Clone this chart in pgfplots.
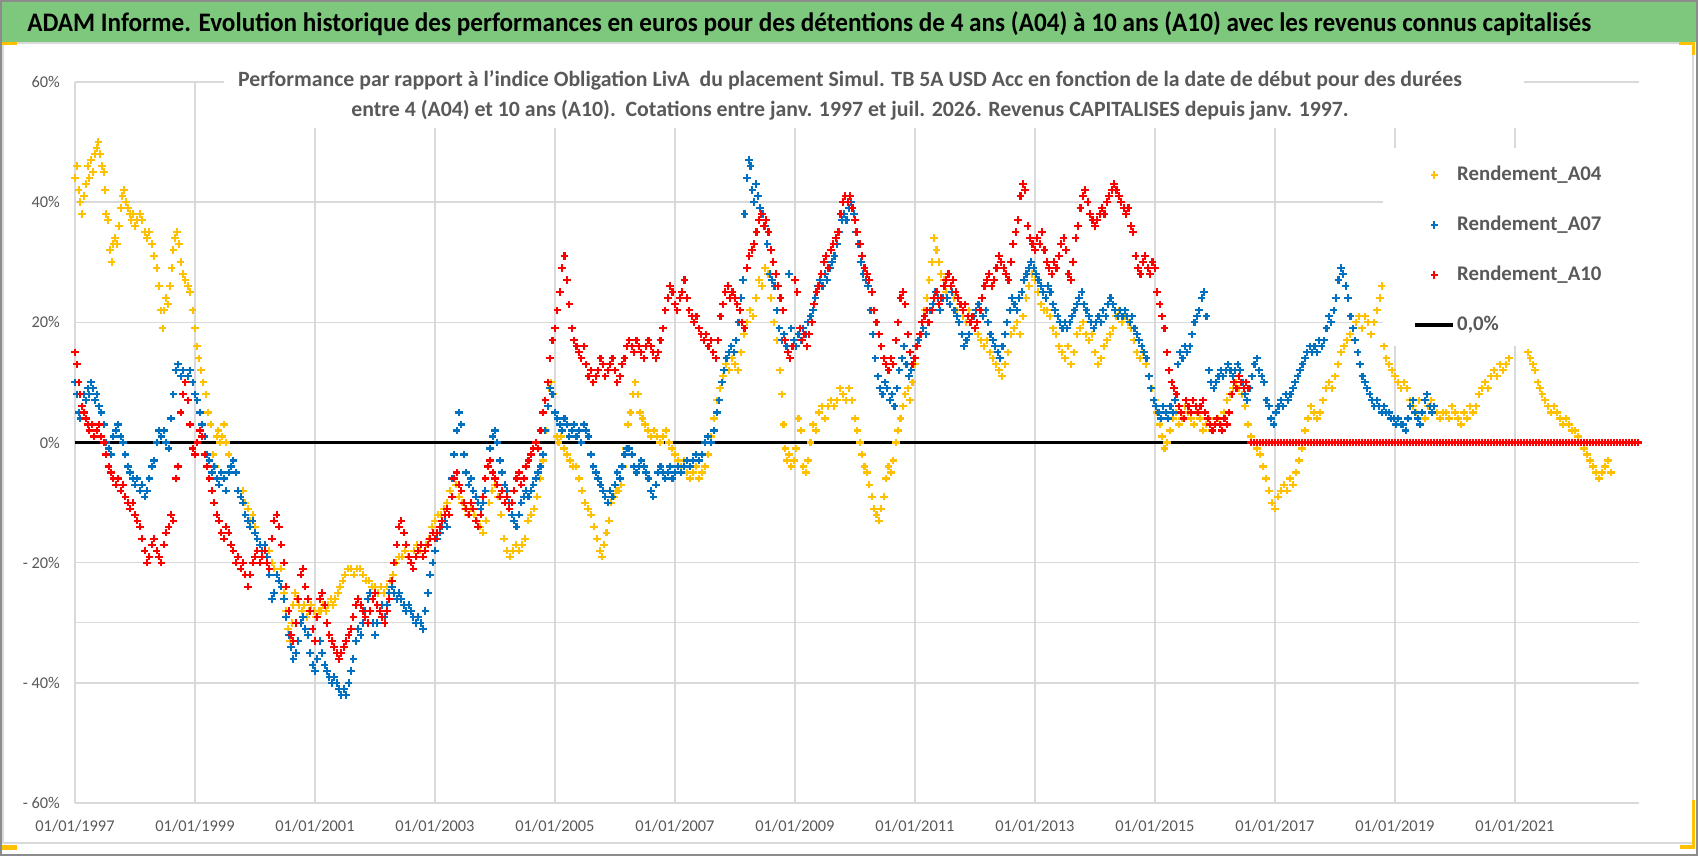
\documentclass[border=0pt]{standalone}
\usepackage{pgfplots}
\pgfplotsset{compat=1.18}
\usepackage{pgfplotstable}
\usepackage{fontspec}
\setmainfont{Carlito}
\definecolor{cA04}{HTML}{FFC000}
\definecolor{cA07}{HTML}{0070C0}
\definecolor{cA10}{HTML}{FF0000}
\definecolor{gridc}{HTML}{D9D9D9}
\definecolor{txtgray}{HTML}{595959}
\definecolor{banner}{HTML}{7DC87D}
\definecolor{framegray}{HTML}{8C8C8C}

\pgfplotstableread[row sep=\\]{x y\\
1997.00 44\\ 1997.03 46\\ 1997.06 42\\ 1997.09 40\\ 1997.12 38\\ 1997.15 41\\ 1997.18 43\\ 1997.21 46\\ 1997.24 44\\ 1997.27 47\\
1997.30 45\\ 1997.33 48\\ 1997.36 49\\ 1997.39 50\\ 1997.42 48\\ 1997.45 46\\ 1997.48 45\\ 1997.50 42\\ 1997.52 38\\ 1997.55 37\\
1997.58 32\\ 1997.61 30\\ 1997.64 33\\ 1997.67 34\\ 1997.70 33\\ 1997.73 36\\ 1997.76 39\\ 1997.79 41\\ 1997.82 42\\ 1997.85 40\\
1997.88 39\\ 1997.91 38\\ 1997.94 37\\ 1997.97 38\\ 1998.00 36\\ 1998.04 37\\ 1998.08 38\\ 1998.12 37\\ 1998.16 35\\ 1998.20 34\\
1998.24 35\\ 1998.28 33\\ 1998.32 31\\ 1998.36 29\\ 1998.40 26\\ 1998.43 22\\ 1998.46 19\\ 1998.49 22\\ 1998.52 24\\ 1998.55 23\\
1998.58 26\\ 1998.61 29\\ 1998.64 32\\ 1998.67 34\\ 1998.70 35\\ 1998.73 33\\ 1998.76 30\\ 1998.80 28\\ 1998.84 27\\ 1998.88 26\\
1998.92 25\\ 1998.96 22\\ 1999.00 19\\ 1999.03 16\\ 1999.06 14\\ 1999.10 12\\ 1999.14 10\\ 1999.18 8\\ 1999.22 5\\ 1999.26 3\\
1999.30 -2\\ 1999.33 -4\\ 1999.36 1\\ 1999.39 2\\ 1999.42 0\\ 1999.45 1\\ 1999.48 3\\ 1999.52 0\\ 1999.56 -2\\ 1999.60 -4\\
1999.64 -3\\ 1999.68 -5\\ 1999.72 -8\\ 1999.76 -9\\ 1999.80 -8\\ 1999.84 -10\\ 1999.88 -11\\ 1999.92 -13\\ 1999.96 -12\\ 2000.00 -14\\
2000.04 -16\\ 2000.08 -17\\ 2000.12 -18\\ 2000.16 -17\\ 2000.20 -19\\ 2000.24 -18\\ 2000.28 -20\\ 2000.32 -21\\ 2000.36 -22\\ 2000.40 -23\\
2000.44 -21\\ 2000.48 -25\\ 2000.52 -28\\ 2000.55 -31\\ 2000.58 -33\\ 2000.61 -30\\ 2000.64 -27\\ 2000.67 -25\\ 2000.70 -26\\ 2000.74 -27\\
2000.78 -28\\ 2000.82 -27\\ 2000.86 -29\\ 2000.90 -28\\ 2000.94 -27\\ 2000.98 -28\\ 2001.02 -29\\ 2001.06 -28\\ 2001.10 -28\\ 2001.14 -27\\
2001.18 -28\\ 2001.22 -27\\ 2001.26 -26\\ 2001.30 -27\\ 2001.34 -26\\ 2001.38 -25\\ 2001.42 -24\\ 2001.46 -23\\ 2001.50 -22\\ 2001.55 -21\\
2001.60 -21\\ 2001.65 -22\\ 2001.70 -21\\ 2001.75 -21\\ 2001.80 -22\\ 2001.85 -23\\ 2001.90 -23\\ 2001.95 -24\\ 2002.00 -24\\ 2002.05 -25\\
2002.10 -24\\ 2002.15 -25\\ 2002.20 -24\\ 2002.25 -23\\ 2002.30 -22\\ 2002.35 -20\\ 2002.40 -19\\ 2002.45 -19\\ 2002.50 -18\\ 2002.55 -19\\
2002.60 -20\\ 2002.65 -18\\ 2002.70 -17\\ 2002.75 -18\\ 2002.80 -19\\ 2002.85 -17\\ 2002.90 -16\\ 2002.95 -14\\ 2003.00 -13\\ 2003.05 -12\\
2003.10 -12\\ 2003.15 -11\\ 2003.20 -10\\ 2003.25 -8\\ 2003.30 -6\\ 2003.35 -7\\ 2003.40 -9\\ 2003.45 -10\\ 2003.50 -11\\ 2003.55 -12\\
2003.60 -11\\ 2003.65 -12\\ 2003.70 -13\\ 2003.75 -14\\ 2003.80 -15\\ 2003.85 -13\\ 2003.90 -10\\ 2003.95 -8\\ 2004.00 -7\\ 2004.05 -9\\
2004.10 -12\\ 2004.15 -16\\ 2004.20 -18\\ 2004.25 -19\\ 2004.30 -18\\ 2004.35 -17\\ 2004.40 -18\\ 2004.45 -17\\ 2004.50 -16\\ 2004.55 -13\\
2004.60 -12\\ 2004.65 -11\\ 2004.70 -9\\ 2004.75 -6\\ 2004.80 -3\\ 2004.85 2\\ 2004.88 6\\ 2004.91 9\\ 2004.94 10\\ 2004.97 8\\
2005.00 5\\ 2005.03 1\\ 2005.06 0\\ 2005.10 1\\ 2005.15 -1\\ 2005.20 -2\\ 2005.25 -3\\ 2005.30 -4\\ 2005.35 -4\\ 2005.40 -6\\
2005.45 -8\\ 2005.50 -10\\ 2005.55 -11\\ 2005.60 -12\\ 2005.65 -14\\ 2005.70 -16\\ 2005.75 -18\\ 2005.78 -19\\ 2005.82 -17\\ 2005.86 -15\\
2005.90 -13\\ 2005.94 -10\\ 2005.98 -9\\ 2006.02 -8\\ 2006.06 -8\\ 2006.10 -7\\ 2006.14 -4\\ 2006.18 -1\\ 2006.22 3\\ 2006.26 5\\
2006.30 8\\ 2006.34 10\\ 2006.38 8\\ 2006.42 5\\ 2006.46 4\\ 2006.50 3\\ 2006.55 2\\ 2006.60 1\\ 2006.65 2\\ 2006.70 1\\
2006.75 0\\ 2006.80 1\\ 2006.85 2\\ 2006.90 0\\ 2006.95 -1\\ 2007.00 -2\\ 2007.05 -3\\ 2007.10 -4\\ 2007.15 -3\\ 2007.20 -5\\
2007.25 -6\\ 2007.30 -5\\ 2007.35 -4\\ 2007.40 -6\\ 2007.45 -5\\ 2007.50 -4\\ 2007.55 -2\\ 2007.60 1\\ 2007.65 4\\ 2007.70 7\\
2007.75 9\\ 2007.80 11\\ 2007.85 13\\ 2007.90 12\\ 2007.95 14\\ 2008.00 13\\ 2008.05 12\\ 2008.10 15\\ 2008.15 18\\ 2008.20 20\\
2008.25 22\\ 2008.30 21\\ 2008.35 24\\ 2008.40 27\\ 2008.45 26\\ 2008.50 29\\ 2008.55 28\\ 2008.60 24\\ 2008.65 20\\ 2008.70 17\\
2008.75 12\\ 2008.78 8\\ 2008.81 3\\ 2008.84 -1\\ 2008.87 -3\\ 2008.90 -2\\ 2008.94 -4\\ 2008.98 -3\\ 2009.02 -1\\ 2009.06 4\\
2009.10 2\\ 2009.14 -4\\ 2009.18 -5\\ 2009.22 -3\\ 2009.26 0\\ 2009.30 3\\ 2009.35 2\\ 2009.40 5\\ 2009.45 6\\ 2009.50 4\\
2009.55 6\\ 2009.60 7\\ 2009.65 6\\ 2009.70 7\\ 2009.75 9\\ 2009.80 8\\ 2009.85 7\\ 2009.90 9\\ 2009.95 7\\ 2010.00 4\\
2010.04 2\\ 2010.08 0\\ 2010.12 -2\\ 2010.16 -4\\ 2010.20 -5\\ 2010.24 -7\\ 2010.28 -9\\ 2010.32 -11\\ 2010.36 -12\\ 2010.40 -13\\
2010.44 -11\\ 2010.48 -9\\ 2010.52 -6\\ 2010.56 -4\\ 2010.60 -5\\ 2010.64 -3\\ 2010.68 0\\ 2010.72 2\\ 2010.76 4\\ 2010.80 6\\
2010.84 8\\ 2010.88 9\\ 2010.92 7\\ 2010.96 10\\ 2011.00 13\\ 2011.04 16\\ 2011.08 18\\ 2011.12 20\\ 2011.16 22\\ 2011.20 24\\
2011.24 27\\ 2011.28 30\\ 2011.32 34\\ 2011.36 32\\ 2011.40 30\\ 2011.44 28\\ 2011.48 27\\ 2011.52 25\\ 2011.56 28\\ 2011.60 26\\
2011.65 24\\ 2011.70 22\\ 2011.75 23\\ 2011.80 21\\ 2011.85 20\\ 2011.90 22\\ 2011.95 21\\ 2012.00 19\\ 2012.05 18\\ 2012.10 17\\
2012.15 16\\ 2012.20 17\\ 2012.25 15\\ 2012.30 14\\ 2012.35 13\\ 2012.40 12\\ 2012.45 11\\ 2012.50 13\\ 2012.55 15\\ 2012.60 18\\
2012.65 19\\ 2012.70 20\\ 2012.75 18\\ 2012.80 21\\ 2012.85 24\\ 2012.90 26\\ 2012.95 28\\ 2013.00 27\\ 2013.05 25\\ 2013.10 23\\
2013.15 22\\ 2013.20 22\\ 2013.25 21\\ 2013.30 19\\ 2013.35 18\\ 2013.40 16\\ 2013.45 15\\ 2013.50 14\\ 2013.55 16\\ 2013.60 13\\
2013.65 15\\ 2013.70 18\\ 2013.75 19\\ 2013.80 20\\ 2013.85 18\\ 2013.90 17\\ 2013.95 18\\ 2014.00 15\\ 2014.05 13\\ 2014.10 14\\
2014.15 16\\ 2014.20 17\\ 2014.25 18\\ 2014.30 19\\ 2014.35 21\\ 2014.40 22\\ 2014.45 20\\ 2014.50 21\\ 2014.55 20\\ 2014.60 19\\
2014.65 17\\ 2014.70 15\\ 2014.75 14\\ 2014.80 15\\ 2014.85 13\\ 2014.90 11\\ 2014.95 9\\ 2015.00 7\\ 2015.04 5\\ 2015.08 3\\
2015.12 1\\ 2015.16 -1\\ 2015.20 0\\ 2015.25 2\\ 2015.30 4\\ 2015.35 5\\ 2015.40 3\\ 2015.45 4\\ 2015.50 6\\ 2015.55 5\\
2015.60 4\\ 2015.65 3\\ 2015.70 5\\ 2015.75 4\\ 2015.80 2\\ 2015.85 3\\ 2015.90 4\\ 2015.95 2\\ 2016.00 3\\ 2016.05 4\\
2016.10 3\\ 2016.15 5\\ 2016.20 7\\ 2016.25 8\\ 2016.30 9\\ 2016.35 10\\ 2016.40 9\\ 2016.45 8\\ 2016.50 6\\ 2016.55 3\\
2016.60 1\\ 2016.65 0\\ 2016.70 -1\\ 2016.75 -2\\ 2016.80 -4\\ 2016.85 -6\\ 2016.90 -8\\ 2016.95 -10\\ 2017.00 -11\\ 2017.05 -9\\
2017.10 -8\\ 2017.15 -7\\ 2017.20 -8\\ 2017.25 -6\\ 2017.30 -7\\ 2017.35 -5\\ 2017.40 -3\\ 2017.45 -1\\ 2017.50 2\\ 2017.55 4\\
2017.60 6\\ 2017.65 5\\ 2017.70 4\\ 2017.75 5\\ 2017.80 7\\ 2017.85 9\\ 2017.90 10\\ 2017.95 9\\ 2018.00 11\\ 2018.05 13\\
2018.10 15\\ 2018.15 16\\ 2018.20 17\\ 2018.25 18\\ 2018.30 19\\ 2018.35 20\\ 2018.40 21\\ 2018.45 19\\ 2018.50 21\\ 2018.55 20\\
2018.60 18\\ 2018.65 20\\ 2018.70 22\\ 2018.75 24\\ 2018.78 26\\ 2018.82 16\\ 2018.86 14\\ 2018.90 13\\ 2018.95 12\\ 2019.00 11\\
2019.05 10\\ 2019.10 9\\ 2019.15 10\\ 2019.20 9\\ 2019.25 7\\ 2019.30 6\\ 2019.35 5\\ 2019.40 7\\ 2019.45 5\\ 2019.50 4\\
2019.55 6\\ 2019.60 7\\ 2019.65 6\\ 2019.70 5\\ 2019.75 4\\ 2019.80 5\\ 2019.85 5\\ 2019.90 4\\ 2019.95 6\\ 2020.00 5\\
2020.05 4\\ 2020.10 3\\ 2020.15 5\\ 2020.20 4\\ 2020.25 6\\ 2020.30 5\\ 2020.35 6\\ 2020.40 8\\ 2020.45 9\\ 2020.50 10\\
2020.55 9\\ 2020.60 11\\ 2020.65 12\\ 2020.70 11\\ 2020.75 13\\ 2020.80 12\\ 2020.85 13\\ 2020.90 14\\
2021.22 15\\ 2021.26 14\\ 2021.30 13\\ 2021.34 12\\ 2021.38 10\\ 2021.42 9\\ 2021.46 8\\ 2021.50 7\\ 2021.55 6\\ 2021.60 5\\
2021.65 6\\ 2021.70 5\\ 2021.75 4\\ 2021.80 3\\ 2021.85 4\\ 2021.90 3\\ 2021.95 2\\ 2022.00 2\\ 2022.05 1\\ 2022.10 0\\
2022.15 -1\\ 2022.20 -2\\ 2022.25 -3\\ 2022.30 -4\\ 2022.35 -5\\ 2022.40 -6\\ 2022.45 -5\\ 2022.50 -4\\ 2022.55 -3\\ 2022.60 -5\\
2022.70 0\\ 2022.80 0\\ 2022.90 0\\ 2023.00 0\\
}\tAfour

\pgfplotstableread[row sep=\\]{x y\\
1997.00 10\\ 1997.03 8\\ 1997.06 5\\ 1997.09 4\\ 1997.12 6\\ 1997.15 8\\ 1997.18 7\\ 1997.21 9\\ 1997.24 8\\ 1997.27 10\\
1997.30 9\\ 1997.33 7\\ 1997.36 8\\ 1997.40 6\\ 1997.44 5\\ 1997.48 3\\ 1997.52 0\\ 1997.56 -1\\ 1997.60 -2\\ 1997.64 1\\
1997.68 2\\ 1997.72 3\\ 1997.76 1\\ 1997.80 0\\ 1997.84 -2\\ 1997.88 -4\\ 1997.92 -5\\ 1997.96 -6\\ 1998.00 -7\\ 1998.04 -6\\
1998.08 -8\\ 1998.12 -7\\ 1998.16 -9\\ 1998.20 -8\\ 1998.24 -6\\ 1998.28 -4\\ 1998.32 -3\\ 1998.36 0\\ 1998.40 2\\ 1998.44 1\\
1998.48 2\\ 1998.52 0\\ 1998.56 -1\\ 1998.60 4\\ 1998.64 8\\ 1998.68 12\\ 1998.72 13\\ 1998.76 11\\ 1998.80 12\\ 1998.84 10\\
1998.88 11\\ 1998.92 12\\ 1998.96 10\\ 1999.00 8\\ 1999.04 7\\ 1999.08 5\\ 1999.12 3\\ 1999.16 1\\ 1999.20 -2\\ 1999.24 -3\\
1999.28 -5\\ 1999.32 -4\\ 1999.36 -6\\ 1999.40 -7\\ 1999.44 -5\\ 1999.48 -6\\ 1999.52 -8\\ 1999.56 -5\\ 1999.60 -4\\ 1999.64 -3\\
1999.68 -5\\ 1999.72 -8\\ 1999.76 -9\\ 1999.80 -10\\ 1999.84 -12\\ 1999.88 -13\\ 1999.92 -14\\ 1999.96 -13\\ 2000.00 -15\\ 2000.04 -16\\
2000.08 -17\\ 2000.12 -18\\ 2000.16 -17\\ 2000.20 -19\\ 2000.24 -22\\ 2000.28 -26\\ 2000.32 -25\\ 2000.36 -22\\ 2000.40 -23\\ 2000.44 -24\\
2000.48 -26\\ 2000.52 -29\\ 2000.56 -32\\ 2000.60 -34\\ 2000.64 -36\\ 2000.68 -35\\ 2000.72 -33\\ 2000.76 -30\\ 2000.80 -29\\ 2000.84 -31\\
2000.88 -32\\ 2000.92 -35\\ 2000.96 -37\\ 2001.00 -38\\ 2001.04 -36\\ 2001.08 -33\\ 2001.12 -35\\ 2001.16 -37\\ 2001.20 -38\\ 2001.24 -39\\
2001.28 -40\\ 2001.32 -39\\ 2001.36 -40\\ 2001.40 -41\\ 2001.44 -42\\ 2001.48 -41\\ 2001.52 -42\\ 2001.56 -40\\ 2001.60 -38\\ 2001.64 -36\\
2001.68 -33\\ 2001.72 -31\\ 2001.76 -32\\ 2001.80 -30\\ 2001.84 -28\\ 2001.88 -26\\ 2001.92 -25\\ 2001.96 -30\\ 2002.00 -32\\ 2002.04 -30\\
2002.08 -28\\ 2002.12 -27\\ 2002.16 -29\\ 2002.20 -27\\ 2002.24 -25\\ 2002.28 -24\\ 2002.32 -25\\ 2002.36 -26\\ 2002.40 -25\\ 2002.44 -26\\
2002.48 -27\\ 2002.52 -28\\ 2002.56 -27\\ 2002.60 -28\\ 2002.64 -29\\ 2002.68 -30\\ 2002.72 -29\\ 2002.76 -30\\ 2002.80 -31\\ 2002.84 -28\\
2002.88 -25\\ 2002.92 -22\\ 2002.96 -20\\ 2003.00 -18\\ 2003.04 -16\\ 2003.08 -15\\ 2003.12 -14\\ 2003.16 -13\\ 2003.20 -14\\ 2003.24 -12\\
2003.28 -6\\ 2003.32 -2\\ 2003.36 2\\ 2003.40 5\\ 2003.44 3\\ 2003.48 -2\\ 2003.52 -5\\ 2003.56 -7\\ 2003.60 -6\\ 2003.64 -8\\
2003.68 -9\\ 2003.72 -10\\ 2003.76 -11\\ 2003.80 -10\\ 2003.84 -8\\ 2003.88 -4\\ 2003.92 -1\\ 2003.96 1\\ 2004.00 2\\ 2004.04 0\\
2004.08 -3\\ 2004.12 -5\\ 2004.16 -7\\ 2004.20 -8\\ 2004.24 -10\\ 2004.28 -12\\ 2004.32 -13\\ 2004.36 -14\\ 2004.40 -12\\ 2004.44 -10\\
2004.48 -9\\ 2004.52 -8\\ 2004.56 -9\\ 2004.60 -8\\ 2004.64 -7\\ 2004.68 -6\\ 2004.72 -5\\ 2004.76 -4\\ 2004.80 -2\\ 2004.84 2\\
2004.88 6\\ 2004.92 9\\ 2004.96 8\\ 2005.00 5\\ 2005.04 4\\ 2005.08 3\\ 2005.12 2\\ 2005.16 4\\ 2005.20 3\\ 2005.24 1\\
2005.28 2\\ 2005.32 3\\ 2005.36 1\\ 2005.40 2\\ 2005.44 0\\ 2005.48 3\\ 2005.52 2\\ 2005.56 1\\ 2005.60 -2\\ 2005.64 -4\\
2005.68 -5\\ 2005.72 -6\\ 2005.76 -7\\ 2005.80 -8\\ 2005.84 -9\\ 2005.88 -10\\ 2005.92 -8\\ 2005.96 -9\\ 2006.00 -7\\ 2006.04 -5\\
2006.08 -6\\ 2006.12 -4\\ 2006.16 -2\\ 2006.20 -1\\ 2006.24 -1\\ 2006.28 -2\\ 2006.32 -4\\ 2006.36 -5\\ 2006.40 -4\\ 2006.44 -3\\
2006.48 -4\\ 2006.52 -5\\ 2006.56 -6\\ 2006.60 -8\\ 2006.64 -9\\ 2006.68 -7\\ 2006.72 -5\\ 2006.76 -4\\ 2006.80 -5\\ 2006.84 -6\\
2006.88 -5\\ 2006.92 -4\\ 2006.96 -6\\ 2007.00 -5\\ 2007.05 -4\\ 2007.10 -5\\ 2007.15 -4\\ 2007.20 -3\\ 2007.25 -4\\ 2007.30 -3\\
2007.35 -2\\ 2007.40 -3\\ 2007.45 -2\\ 2007.50 0\\ 2007.55 1\\ 2007.60 0\\ 2007.65 2\\ 2007.70 5\\ 2007.74 7\\ 2007.78 10\\
2007.82 12\\ 2007.86 14\\ 2007.90 15\\ 2007.94 16\\ 2007.98 15\\ 2008.02 17\\ 2008.06 20\\ 2008.10 24\\ 2008.13 27\\ 2008.16 38\\
2008.20 44\\ 2008.23 47\\ 2008.26 46\\ 2008.29 42\\ 2008.32 40\\ 2008.35 43\\ 2008.38 41\\ 2008.42 39\\ 2008.46 38\\ 2008.50 36\\
2008.54 33\\ 2008.58 28\\ 2008.62 27\\ 2008.66 26\\ 2008.70 22\\ 2008.74 19\\ 2008.78 17\\ 2008.82 18\\ 2008.86 16\\ 2008.90 28\\
2008.94 19\\ 2008.98 17\\ 2009.02 16\\ 2009.06 18\\ 2009.10 17\\ 2009.14 19\\ 2009.18 18\\ 2009.22 20\\ 2009.26 21\\ 2009.30 22\\
2009.34 24\\ 2009.38 26\\ 2009.42 27\\ 2009.46 26\\ 2009.50 28\\ 2009.54 27\\ 2009.58 29\\ 2009.62 30\\ 2009.66 31\\ 2009.70 33\\
2009.74 35\\ 2009.78 37\\ 2009.82 38\\ 2009.86 37\\ 2009.90 39\\ 2009.94 40\\ 2009.98 38\\ 2010.02 35\\ 2010.06 33\\ 2010.10 30\\
2010.14 28\\ 2010.18 27\\ 2010.22 26\\ 2010.26 22\\ 2010.30 18\\ 2010.34 14\\ 2010.38 11\\ 2010.42 9\\ 2010.46 8\\ 2010.50 10\\
2010.54 9\\ 2010.58 7\\ 2010.62 8\\ 2010.66 6\\ 2010.70 9\\ 2010.74 12\\ 2010.78 14\\ 2010.82 16\\ 2010.86 13\\ 2010.90 11\\
2010.94 12\\ 2010.98 14\\ 2011.02 16\\ 2011.06 17\\ 2011.10 18\\ 2011.14 19\\ 2011.18 18\\ 2011.22 20\\ 2011.26 22\\ 2011.30 23\\
2011.34 25\\ 2011.38 24\\ 2011.42 22\\ 2011.46 24\\ 2011.50 26\\ 2011.54 24\\ 2011.58 23\\ 2011.62 25\\ 2011.66 22\\ 2011.70 21\\
2011.74 20\\ 2011.78 18\\ 2011.82 16\\ 2011.86 17\\ 2011.90 18\\ 2011.94 20\\ 2011.98 21\\ 2012.02 22\\ 2012.06 23\\ 2012.10 22\\
2012.14 21\\ 2012.18 22\\ 2012.22 20\\ 2012.26 18\\ 2012.30 17\\ 2012.34 16\\ 2012.38 15\\ 2012.42 14\\ 2012.46 16\\ 2012.50 18\\
2012.54 20\\ 2012.58 22\\ 2012.62 24\\ 2012.66 23\\ 2012.70 22\\ 2012.74 24\\ 2012.78 25\\ 2012.82 27\\ 2012.86 28\\ 2012.90 29\\
2012.94 30\\ 2012.98 29\\ 2013.02 28\\ 2013.06 27\\ 2013.10 26\\ 2013.14 25\\ 2013.18 24\\ 2013.22 26\\ 2013.26 25\\ 2013.30 23\\
2013.34 22\\ 2013.38 21\\ 2013.42 20\\ 2013.46 19\\ 2013.50 20\\ 2013.54 19\\ 2013.58 20\\ 2013.62 21\\ 2013.66 22\\ 2013.70 23\\
2013.74 24\\ 2013.78 25\\ 2013.82 23\\ 2013.86 22\\ 2013.90 21\\ 2013.94 20\\ 2013.98 19\\ 2014.02 20\\ 2014.06 21\\ 2014.10 20\\
2014.14 22\\ 2014.18 21\\ 2014.22 23\\ 2014.26 24\\ 2014.30 23\\ 2014.34 22\\ 2014.38 21\\ 2014.42 22\\ 2014.46 21\\ 2014.50 22\\
2014.54 21\\ 2014.58 20\\ 2014.62 21\\ 2014.66 19\\ 2014.70 18\\ 2014.74 17\\ 2014.78 16\\ 2014.82 15\\ 2014.86 14\\ 2014.90 11\\
2014.94 9\\ 2014.98 7\\ 2015.02 6\\ 2015.06 5\\ 2015.10 4\\ 2015.14 6\\ 2015.18 5\\ 2015.22 4\\ 2015.26 6\\ 2015.30 5\\
2015.34 7\\ 2015.38 13\\ 2015.42 15\\ 2015.46 14\\ 2015.50 16\\ 2015.54 15\\ 2015.58 16\\ 2015.62 18\\ 2015.66 20\\ 2015.70 21\\
2015.74 22\\ 2015.78 24\\ 2015.82 25\\ 2015.86 21\\ 2015.90 12\\ 2015.94 10\\ 2015.98 9\\ 2016.02 10\\ 2016.06 11\\ 2016.10 12\\
2016.14 11\\ 2016.18 12\\ 2016.22 13\\ 2016.26 12\\ 2016.30 11\\ 2016.34 12\\ 2016.38 13\\ 2016.42 12\\ 2016.46 10\\ 2016.50 8\\
2016.54 7\\ 2016.58 9\\ 2016.62 11\\ 2016.66 13\\ 2016.70 14\\ 2016.74 12\\ 2016.78 11\\ 2016.82 10\\ 2016.86 7\\ 2016.90 6\\
2016.94 4\\ 2016.98 3\\ 2017.02 5\\ 2017.06 6\\ 2017.10 7\\ 2017.14 6\\ 2017.18 8\\ 2017.22 7\\ 2017.26 8\\ 2017.30 9\\
2017.34 10\\ 2017.38 11\\ 2017.42 12\\ 2017.46 13\\ 2017.50 14\\ 2017.54 15\\ 2017.58 16\\ 2017.62 15\\ 2017.66 16\\ 2017.70 15\\
2017.74 17\\ 2017.78 16\\ 2017.82 17\\ 2017.86 19\\ 2017.90 21\\ 2017.94 20\\ 2017.98 22\\ 2018.02 24\\ 2018.06 27\\ 2018.10 29\\
2018.14 28\\ 2018.18 26\\ 2018.22 24\\ 2018.26 21\\ 2018.30 19\\ 2018.34 17\\ 2018.38 15\\ 2018.42 13\\ 2018.46 11\\ 2018.50 10\\
2018.54 9\\ 2018.58 8\\ 2018.62 7\\ 2018.66 6\\ 2018.70 7\\ 2018.74 6\\ 2018.78 5\\ 2018.82 6\\ 2018.86 5\\ 2018.90 5\\
2018.94 4\\ 2018.98 4\\ 2019.02 3\\ 2019.06 4\\ 2019.10 3\\ 2019.14 3\\ 2019.18 2\\ 2019.22 4\\ 2019.26 6\\ 2019.30 7\\
2019.34 5\\ 2019.38 4\\ 2019.42 3\\ 2019.46 5\\ 2019.50 7\\ 2019.54 8\\ 2019.58 6\\ 2019.62 5\\ 2019.66 6\\
2019.80 0\\ 2020.00 0\\ 2020.20 0\\ 2020.40 0\\ 2020.60 0\\ 2020.80 0\\ 2021.00 0\\ 2021.20 0\\ 2021.40 0\\ 2021.60 0\\
2021.80 0\\ 2022.00 0\\ 2022.20 0\\ 2022.40 0\\ 2022.60 0\\ 2022.80 0\\ 2023.00 0\\
}\tAseven

\pgfplotstableread[row sep=\\]{x y\\
1997.00 15\\ 1997.03 13\\ 1997.06 10\\ 1997.09 8\\ 1997.12 6\\ 1997.15 5\\ 1997.18 4\\ 1997.21 3\\ 1997.24 2\\ 1997.28 3\\
1997.32 1\\ 1997.36 2\\ 1997.40 3\\ 1997.44 1\\ 1997.48 0\\ 1997.52 -2\\ 1997.56 -4\\ 1997.60 -5\\ 1997.64 -6\\ 1997.68 -7\\
1997.72 -6\\ 1997.76 -8\\ 1997.80 -7\\ 1997.84 -9\\ 1997.88 -10\\ 1997.92 -11\\ 1997.96 -10\\ 1998.00 -12\\ 1998.04 -13\\ 1998.08 -14\\
1998.12 -16\\ 1998.16 -18\\ 1998.20 -20\\ 1998.24 -19\\ 1998.28 -17\\ 1998.32 -16\\ 1998.36 -18\\ 1998.40 -19\\ 1998.44 -20\\ 1998.48 -17\\
1998.52 -15\\ 1998.56 -14\\ 1998.60 -12\\ 1998.64 -13\\ 1998.68 -6\\ 1998.72 -4\\ 1998.76 5\\ 1998.80 8\\ 1998.84 10\\ 1998.88 7\\
1998.92 3\\ 1998.96 -1\\ 1999.00 -2\\ 1999.04 0\\ 1999.08 2\\ 1999.12 1\\ 1999.16 -2\\ 1999.20 -4\\ 1999.24 -6\\ 1999.28 -8\\
1999.32 -10\\ 1999.36 -12\\ 1999.40 -13\\ 1999.44 -15\\ 1999.48 -16\\ 1999.52 -14\\ 1999.56 -15\\ 1999.60 -17\\ 1999.64 -18\\ 1999.68 -20\\
1999.72 -19\\ 1999.76 -21\\ 1999.80 -20\\ 1999.84 -22\\ 1999.88 -24\\ 1999.92 -22\\ 1999.96 -20\\ 2000.00 -19\\ 2000.04 -18\\ 2000.08 -20\\
2000.12 -19\\ 2000.16 -18\\ 2000.20 -20\\ 2000.24 -21\\ 2000.28 -16\\ 2000.32 -13\\ 2000.36 -12\\ 2000.40 -14\\ 2000.44 -17\\ 2000.48 -20\\
2000.52 -24\\ 2000.56 -28\\ 2000.60 -32\\ 2000.64 -33\\ 2000.68 -30\\ 2000.72 -26\\ 2000.76 -22\\ 2000.80 -21\\ 2000.84 -24\\ 2000.88 -26\\
2000.92 -28\\ 2000.96 -31\\ 2001.00 -33\\ 2001.04 -29\\ 2001.08 -26\\ 2001.12 -25\\ 2001.16 -27\\ 2001.20 -30\\ 2001.24 -32\\ 2001.28 -33\\
2001.32 -34\\ 2001.36 -35\\ 2001.40 -36\\ 2001.44 -35\\ 2001.48 -34\\ 2001.52 -33\\ 2001.56 -32\\ 2001.60 -31\\ 2001.64 -29\\ 2001.68 -27\\
2001.72 -26\\ 2001.76 -27\\ 2001.80 -28\\ 2001.84 -29\\ 2001.88 -30\\ 2001.92 -28\\ 2001.96 -26\\ 2002.00 -25\\ 2002.04 -27\\ 2002.08 -28\\
2002.12 -29\\ 2002.16 -30\\ 2002.20 -28\\ 2002.24 -26\\ 2002.28 -23\\ 2002.32 -20\\ 2002.36 -17\\ 2002.40 -14\\ 2002.44 -13\\ 2002.48 -15\\
2002.52 -17\\ 2002.56 -19\\ 2002.60 -20\\ 2002.64 -21\\ 2002.68 -19\\ 2002.72 -18\\ 2002.76 -17\\ 2002.80 -19\\ 2002.84 -18\\ 2002.88 -17\\
2002.92 -16\\ 2002.96 -15\\ 2003.00 -16\\ 2003.04 -15\\ 2003.08 -14\\ 2003.12 -13\\ 2003.16 -12\\ 2003.20 -11\\ 2003.24 -12\\ 2003.28 -9\\
2003.32 -6\\ 2003.36 -5\\ 2003.40 -7\\ 2003.44 -8\\ 2003.48 -10\\ 2003.52 -11\\ 2003.56 -12\\ 2003.60 -10\\ 2003.64 -11\\ 2003.68 -13\\
2003.72 -14\\ 2003.76 -12\\ 2003.80 -9\\ 2003.84 -6\\ 2003.88 -4\\ 2003.92 -3\\ 2003.96 -5\\ 2004.00 -6\\ 2004.04 -7\\ 2004.08 -9\\
2004.12 -8\\ 2004.16 -10\\ 2004.20 -9\\ 2004.24 -11\\ 2004.28 -10\\ 2004.32 -8\\ 2004.36 -6\\ 2004.40 -5\\ 2004.44 -7\\ 2004.48 -6\\
2004.52 -4\\ 2004.56 -3\\ 2004.60 -2\\ 2004.64 -1\\ 2004.68 0\\ 2004.72 -1\\ 2004.76 2\\ 2004.80 5\\ 2004.84 7\\ 2004.88 10\\
2004.92 14\\ 2004.96 17\\ 2005.00 19\\ 2005.04 22\\ 2005.08 25\\ 2005.12 29\\ 2005.16 31\\ 2005.20 27\\ 2005.24 23\\ 2005.28 19\\
2005.32 17\\ 2005.36 16\\ 2005.40 15\\ 2005.44 14\\ 2005.48 16\\ 2005.52 13\\ 2005.56 11\\ 2005.60 12\\ 2005.64 10\\ 2005.68 11\\
2005.72 12\\ 2005.76 14\\ 2005.80 13\\ 2005.84 11\\ 2005.88 12\\ 2005.92 13\\ 2005.96 14\\ 2006.00 12\\ 2006.04 10\\ 2006.08 11\\
2006.12 13\\ 2006.16 14\\ 2006.20 16\\ 2006.24 17\\ 2006.28 16\\ 2006.32 15\\ 2006.36 17\\ 2006.40 16\\ 2006.44 15\\ 2006.48 14\\
2006.52 16\\ 2006.56 17\\ 2006.60 16\\ 2006.64 15\\ 2006.68 14\\ 2006.72 15\\ 2006.76 17\\ 2006.80 19\\ 2006.84 22\\ 2006.88 24\\
2006.92 26\\ 2006.96 25\\ 2007.00 23\\ 2007.04 22\\ 2007.08 24\\ 2007.12 25\\ 2007.16 27\\ 2007.20 24\\ 2007.24 22\\ 2007.28 21\\
2007.32 20\\ 2007.36 21\\ 2007.40 19\\ 2007.44 18\\ 2007.48 17\\ 2007.52 18\\ 2007.56 16\\ 2007.60 17\\ 2007.64 15\\ 2007.68 14\\
2007.72 17\\ 2007.76 21\\ 2007.80 23\\ 2007.84 25\\ 2007.88 26\\ 2007.92 24\\ 2007.96 25\\ 2008.00 24\\ 2008.04 23\\ 2008.08 22\\
2008.12 20\\ 2008.16 19\\ 2008.20 29\\ 2008.24 31\\ 2008.28 32\\ 2008.32 33\\ 2008.36 35\\ 2008.40 37\\ 2008.44 38\\ 2008.48 36\\
2008.52 37\\ 2008.56 35\\ 2008.60 32\\ 2008.64 30\\ 2008.68 28\\ 2008.72 26\\ 2008.76 24\\ 2008.80 22\\ 2008.84 17\\ 2008.88 15\\
2008.92 14\\ 2008.96 16\\ 2009.00 27\\ 2009.04 25\\ 2009.08 19\\ 2009.12 17\\ 2009.16 18\\ 2009.20 16\\ 2009.24 18\\ 2009.28 20\\
2009.32 23\\ 2009.36 25\\ 2009.40 26\\ 2009.44 28\\ 2009.48 30\\ 2009.52 31\\ 2009.56 29\\ 2009.60 32\\ 2009.64 33\\ 2009.68 34\\
2009.72 35\\ 2009.76 38\\ 2009.80 40\\ 2009.84 41\\ 2009.88 40\\ 2009.92 41\\ 2009.96 39\\ 2010.00 37\\ 2010.04 35\\ 2010.08 33\\
2010.12 31\\ 2010.16 29\\ 2010.20 28\\ 2010.24 27\\ 2010.28 25\\ 2010.32 22\\ 2010.36 20\\ 2010.40 18\\ 2010.44 16\\ 2010.48 14\\
2010.52 13\\ 2010.56 12\\ 2010.60 14\\ 2010.64 13\\ 2010.68 17\\ 2010.72 20\\ 2010.76 24\\ 2010.80 25\\ 2010.84 23\\ 2010.88 18\\
2010.92 15\\ 2010.96 13\\ 2011.00 14\\ 2011.04 16\\ 2011.08 18\\ 2011.12 20\\ 2011.16 21\\ 2011.20 22\\ 2011.24 20\\ 2011.28 22\\
2011.32 24\\ 2011.36 25\\ 2011.40 23\\ 2011.44 24\\ 2011.48 26\\ 2011.52 27\\ 2011.56 28\\ 2011.60 26\\ 2011.64 27\\ 2011.68 25\\
2011.72 24\\ 2011.76 23\\ 2011.80 22\\ 2011.84 23\\ 2011.88 21\\ 2011.92 20\\ 2011.96 21\\ 2012.00 19\\ 2012.04 20\\ 2012.08 22\\
2012.12 24\\ 2012.16 26\\ 2012.20 27\\ 2012.24 28\\ 2012.28 26\\ 2012.32 27\\ 2012.36 29\\ 2012.40 31\\ 2012.44 30\\ 2012.48 29\\
2012.52 28\\ 2012.56 27\\ 2012.60 30\\ 2012.64 33\\ 2012.68 35\\ 2012.72 37\\ 2012.76 41\\ 2012.80 43\\ 2012.84 42\\ 2012.88 36\\
2012.92 34\\ 2012.96 33\\ 2013.00 32\\ 2013.04 34\\ 2013.08 33\\ 2013.12 35\\ 2013.16 32\\ 2013.20 30\\ 2013.24 29\\ 2013.28 28\\
2013.32 30\\ 2013.36 29\\ 2013.40 31\\ 2013.44 33\\ 2013.48 34\\ 2013.52 32\\ 2013.56 28\\ 2013.60 27\\ 2013.64 30\\ 2013.68 34\\
2013.72 36\\ 2013.76 39\\ 2013.80 41\\ 2013.84 42\\ 2013.88 40\\ 2013.92 38\\ 2013.96 37\\ 2014.00 36\\ 2014.04 37\\ 2014.08 38\\
2014.12 39\\ 2014.16 38\\ 2014.20 40\\ 2014.24 41\\ 2014.28 42\\ 2014.32 43\\ 2014.36 42\\ 2014.40 41\\ 2014.44 40\\ 2014.48 39\\
2014.52 38\\ 2014.56 39\\ 2014.60 36\\ 2014.64 35\\ 2014.68 31\\ 2014.72 29\\ 2014.76 28\\ 2014.80 30\\ 2014.84 31\\ 2014.88 29\\
2014.92 28\\ 2014.96 30\\ 2015.00 29\\ 2015.04 25\\ 2015.08 23\\ 2015.12 21\\ 2015.16 19\\ 2015.20 15\\ 2015.24 12\\ 2015.28 10\\
2015.32 9\\ 2015.36 8\\ 2015.40 6\\ 2015.44 5\\ 2015.48 4\\ 2015.52 7\\ 2015.56 6\\ 2015.60 5\\ 2015.64 7\\ 2015.68 6\\
2015.72 5\\ 2015.76 6\\ 2015.80 7\\ 2015.84 5\\ 2015.88 4\\ 2015.92 3\\ 2015.96 2\\ 2016.00 3\\ 2016.04 4\\ 2016.08 3\\
2016.12 2\\ 2016.16 4\\ 2016.20 3\\ 2016.24 5\\ 2016.28 8\\ 2016.32 10\\ 2016.36 9\\ 2016.40 11\\ 2016.44 10\\ 2016.48 9\\
2016.52 10\\ 2016.56 9\\
2016.60 0\\ 2016.65 0\\ 2016.70 0\\ 2016.75 0\\ 2016.80 0\\ 2016.85 0\\ 2016.90 0\\ 2016.95 0\\ 2017.00 0\\ 2017.05 0\\
2017.10 0\\ 2017.15 0\\ 2017.20 0\\ 2017.25 0\\ 2017.30 0\\ 2017.35 0\\ 2017.40 0\\ 2017.45 0\\ 2017.50 0\\ 2017.55 0\\
2017.60 0\\ 2017.65 0\\ 2017.70 0\\ 2017.75 0\\ 2017.80 0\\ 2017.85 0\\ 2017.90 0\\ 2017.95 0\\ 2018.00 0\\ 2018.05 0\\
2018.10 0\\ 2018.15 0\\ 2018.20 0\\ 2018.25 0\\ 2018.30 0\\ 2018.35 0\\ 2018.40 0\\ 2018.45 0\\ 2018.50 0\\ 2018.55 0\\
2018.60 0\\ 2018.65 0\\ 2018.70 0\\ 2018.75 0\\ 2018.80 0\\ 2018.85 0\\ 2018.90 0\\ 2018.95 0\\ 2019.00 0\\ 2019.05 0\\
2019.10 0\\ 2019.15 0\\ 2019.20 0\\ 2019.25 0\\ 2019.30 0\\ 2019.35 0\\ 2019.40 0\\ 2019.45 0\\ 2019.50 0\\ 2019.55 0\\
2019.60 0\\ 2019.65 0\\ 2019.70 0\\ 2019.75 0\\ 2019.80 0\\ 2019.85 0\\ 2019.90 0\\ 2019.95 0\\ 2020.00 0\\ 2020.05 0\\
2020.10 0\\ 2020.15 0\\ 2020.20 0\\ 2020.25 0\\ 2020.30 0\\ 2020.35 0\\ 2020.40 0\\ 2020.45 0\\ 2020.50 0\\ 2020.55 0\\
2020.60 0\\ 2020.65 0\\ 2020.70 0\\ 2020.75 0\\ 2020.80 0\\ 2020.85 0\\ 2020.90 0\\ 2020.95 0\\ 2021.00 0\\ 2021.05 0\\
2021.10 0\\ 2021.15 0\\ 2021.20 0\\ 2021.25 0\\ 2021.30 0\\ 2021.35 0\\ 2021.40 0\\ 2021.45 0\\ 2021.50 0\\ 2021.55 0\\
2021.60 0\\ 2021.65 0\\ 2021.70 0\\ 2021.75 0\\ 2021.80 0\\ 2021.85 0\\ 2021.90 0\\ 2021.95 0\\ 2022.00 0\\ 2022.05 0\\
2022.10 0\\ 2022.15 0\\ 2022.20 0\\ 2022.25 0\\ 2022.30 0\\ 2022.35 0\\ 2022.40 0\\ 2022.45 0\\ 2022.50 0\\ 2022.55 0\\
2022.60 0\\ 2022.65 0\\ 2022.70 0\\ 2022.75 0\\ 2022.80 0\\ 2022.85 0\\ 2022.90 0\\ 2022.95 0\\ 2023.00 0\\ 2023.05 0\\
}\tAten

\begin{document}
\begin{tikzpicture}
% page background and frame (1 px = 0.5 pt; image 1698 x 856 px)
\useasboundingbox (0,0) rectangle (849pt,428pt);
\fill[white] (0,0) rectangle (849pt,428pt);
\fill[banner] (0,407.2pt) rectangle (849pt,427pt);
\draw[framegray, line width=1pt] (0.5pt,0.5pt) rectangle (848.5pt,427.5pt);
\draw[gridc, line width=0.6pt] (1.5pt,6.5pt) rectangle (846.5pt,406.5pt);
\fill[cA04] (839.5pt,407pt) rectangle (847.5pt,405.6pt);
\fill[cA04] (846pt,407pt) rectangle (847.5pt,400.5pt);
\fill[cA04] (840pt,3.5pt) rectangle (847.5pt,5.5pt);
\fill[cA04] (846pt,3.5pt) rectangle (847.5pt,28pt);
\fill[cA04] (1pt,3pt) rectangle (8.5pt,5.5pt);
\fill[cA04] (1pt,405.6pt) rectangle (8.5pt,407pt);
\node[anchor=base west, inner sep=0pt, font=\bfseries\fontsize{12.6}{14}\selectfont, text=black] at (13.5pt,412pt)
  {\scalebox{1}[1.06]{ADAM Informe. Evolution historique des performances en euros pour des détentions de 4 ans (A04) à 10 ans (A10) avec les revenus connus capitalisés}};

\begin{axis}[
  at={(37.5pt,26.5pt)}, anchor=south west,
  width=782pt, height=360.5pt, scale only axis,
  xmin=1997, xmax=2023.07, ymin=-60, ymax=60,
  axis line style={draw=none}, tick style={draw=none},
  grid=major, major grid style={draw=gridc, line width=0.7pt},
  xtick={1997,1999,2001,2003,2005,2007,2009,2011,2013,2015,2017,2019,2021},
  xticklabels={01/01/1997,01/01/1999,01/01/2001,01/01/2003,01/01/2005,01/01/2007,01/01/2009,01/01/2011,01/01/2013,01/01/2015,01/01/2017,01/01/2019,01/01/2021},
  ytick={-60,-40,-20,0,20,40,60},
  yticklabels={- 60\%,- 40\%,- 20\%,0\%,20\%,40\%,60\%},
  extra y ticks={-30}, extra y tick labels={},
  extra y tick style={grid=major},
  tick label style={font=\fontsize{8.2}{9}\selectfont, text=txtgray},
  xticklabel style={yshift=-5pt},
  yticklabel style={xshift=-4pt},
  legend image code/.code={\draw[mark repeat=2,mark phase=2,#1] plot coordinates {(0pt,0pt) (9.5pt,0pt) (19pt,0pt)};},
  legend style={at={(0.8555,0.884)}, anchor=north west, draw=none, fill=none,
    font=\bfseries\fontsize{10.4}{12}\selectfont, text=txtgray,
    row sep=16pt, inner xsep=0pt, inner ysep=0pt,
    nodes={inner xsep=1pt, inner ysep=0pt, text height=7pt, text depth=2pt}},
  legend cell align=left,
]
\addplot[black, line width=1.9pt, forget plot] coordinates {(1997,0) (2023.07,0)};
\addplot[only marks, mark=+, color=cA04, mark size=1.9pt, mark options={line width=1.05pt}] table[x=x,y=y]{\tAfour};
\addplot[only marks, mark=+, color=cA07, mark size=1.9pt, mark options={line width=1.05pt}] table[x=x,y=y]{\tAseven};
\addplot[only marks, mark=+, color=cA10, mark size=1.9pt, mark options={line width=1.05pt}] table[x=x,y=y]{\tAten};
\fill[white] (rel axis cs:0.8363,0.9085) rectangle (rel axis cs:1,0.634);
\legend{Rendement\_A04,Rendement\_A07,Rendement\_A10,0{,}0\%}
\addlegendimage{black, line width=1.9pt}
\end{axis}
% subtitle block (white box covers the grid)
\fill[white] (112pt,364pt) rectangle (762pt,400pt);
\node[font=\bfseries\fontsize{10.9}{15}\selectfont, text=txtgray, align=center] at (425pt,380.5pt)
  {Performance par rapport à l'indice Obligation LivA\ \ du placement Simul. TB 5A USD Acc en fonction de la date de début pour des durées\\
   entre 4 (A04) et 10 ans (A10).\ \ Cotations entre janv. 1997 et juil. 2026. Revenus\ CAPITALISES\ depuis janv. 1997.};
\end{tikzpicture}
\end{document}
